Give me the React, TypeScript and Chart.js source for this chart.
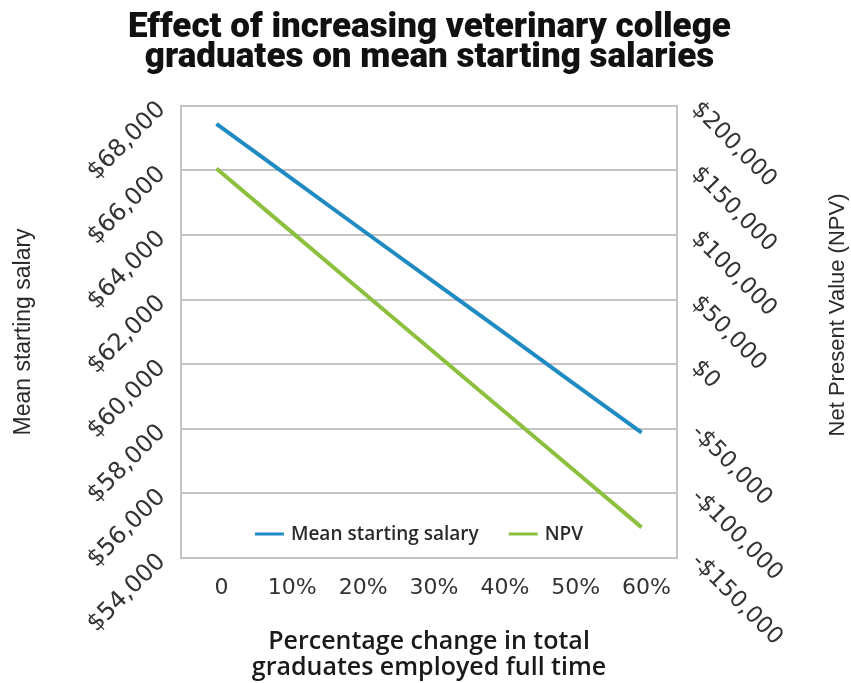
import React, { useEffect, useRef } from "react";
import { Chart, registerables } from "chart.js";

Chart.register(...registerables);

const titleLines = ["Effect of increasing veterinary college", "graduates on mean starting salaries"];
const categories = ["0", "10%", "20%", "30%", "40%", "50%", "60%"];
const salaryValues = [67440, 65850, 64250, 62660, 61070, 59470, 57880];
const npvValues = [151500, 105200, 58900, 12600, -33700, -80000, -126300];
const salaryTicks = [54000, 56000, 58000, 60000, 62000, 64000, 66000, 68000];
const npvTicks = [-150000, -100000, -50000, 0, 50000, 100000, 150000, 200000];
const xTitleLines = ["Percentage change in total", "graduates employed full time"];
const leftTitle = "Mean starting salary";
const rightTitle = "Net Present Value (NPV)";

const BLUE = "#1f8bc2";
const GREEN = "#8dc03f";
const GRID = "#c4c4c4";
const TEXT = "#2a2a2a";
const TICK_FONT = "'DejaVu Sans', sans-serif";
const AXIS_TITLE_FONT = "'Liberation Sans', Arial, sans-serif";

const fmt = (v: number) => (v < 0 ? "-$" : "$") + Math.abs(v).toLocaleString("en-US");

const insideLegend = {
  id: "insideLegend",
  afterDraw(chart: any) {
    const { ctx, chartArea } = chart;
    const y = chartArea.bottom - 24;
    const sample = 29;
    const gapText = 7;
    const gapItems = 30;
    ctx.save();
    ctx.font = "600 19px 'Open Sans', sans-serif";
    const items = chart.data.datasets.map((d: any) => ({
      label: d.label,
      color: d.borderColor,
      w: ctx.measureText(d.label).width,
    }));
    const total = items.reduce((s: number, it: any) => s + sample + gapText + it.w, 0) + gapItems * (items.length - 1);
    let x = (chartArea.left + chartArea.right) / 2 - 10 - total / 2;
    ctx.textBaseline = "middle";
    ctx.textAlign = "left";
    items.forEach((it: any) => {
      ctx.strokeStyle = it.color;
      ctx.lineWidth = 3;
      ctx.beginPath();
      ctx.moveTo(x, y);
      ctx.lineTo(x + sample, y);
      ctx.stroke();
      ctx.fillStyle = TEXT;
      ctx.fillText(it.label, x + sample + gapText, y + 1);
      x += sample + gapText + it.w + gapItems;
    });
    ctx.restore();
  },
};

const rightTitlePlugin = {
  id: "rightTitle",
  afterDraw(chart: any) {
    const { ctx, chartArea } = chart;
    ctx.save();
    ctx.font = "22px " + AXIS_TITLE_FONT;
    ctx.fillStyle = TEXT;
    ctx.textAlign = "center";
    ctx.textBaseline = "middle";
    ctx.translate(chart.width - 13, (chartArea.top + chartArea.bottom) / 2 - 17);
    ctx.rotate(-Math.PI / 2);
    ctx.fillText(rightTitle, 0, 0);
    ctx.restore();
  },
};

export default function App() {
  const ref = useRef<HTMLCanvasElement | null>(null);
  useEffect(() => {
    if (!ref.current) return;
    const chart = new Chart(ref.current, {
      type: "line",
      data: {
        labels: categories,
        datasets: [
          {
            label: "Mean starting salary",
            data: salaryValues,
            borderColor: BLUE,
            backgroundColor: BLUE,
            borderWidth: 4,
            pointRadius: 0,
            yAxisID: "y",
          },
          {
            label: "NPV",
            data: npvValues,
            borderColor: GREEN,
            backgroundColor: GREEN,
            borderWidth: 4,
            pointRadius: 0,
            yAxisID: "y1",
          },
        ],
      },
      options: {
        responsive: false,
        animation: false,
        layout: { padding: { left: 8, right: 0, top: 0, bottom: 0 } },
        plugins: {
          legend: { display: false },
          tooltip: { enabled: false },
          title: {
            display: true,
            text: titleLines,
            color: "#111",
            font: { family: "Roboto, sans-serif", size: 35, weight: "900", lineHeight: 0.87 },
            padding: { top: 13, bottom: 32 },
          },
        },
        scales: {
          x: {
            offset: true,
            grid: { display: false },
            border: { display: false },
            ticks: {
              color: "#333",
              font: { family: TICK_FONT, size: 22 },
              padding: 9,
              labelOffset: 5,
              maxRotation: 0,
              autoSkip: false,
            },
            title: {
              display: true,
              text: xTitleLines,
              color: "#1a1a1a",
              font: { family: "'Open Sans', sans-serif", size: 25, weight: "600", lineHeight: 1.04 },
              padding: { top: 10, bottom: 2 },
            },
            afterFit: (s: any) => {
              s.height = 125;
            },
          },
          y: {
            position: "left",
            min: 54000,
            max: 68000,
            afterBuildTicks: (s: any) => {
              s.ticks = salaryTicks.map((v) => ({ value: v }));
            },
            grid: { color: GRID, lineWidth: 2, drawTicks: false },
            border: { display: true, color: GRID, width: 2 },
            ticks: {
              color: "#333",
              font: { family: TICK_FONT, size: 24 },
              padding: 19,
              minRotation: 45,
              maxRotation: 45,
              callback: (v: any) => fmt(Number(v)),
            },
            title: {
              display: true,
              text: leftTitle,
              color: TEXT,
              font: { family: AXIS_TITLE_FONT, size: 23 },
              padding: { top: 2, bottom: 0 },
            },
            afterFit: (s: any) => {
              s.width = 173;
            },
          },
          y1: {
            position: "right",
            min: -150000,
            max: 200000,
            afterBuildTicks: (s: any) => {
              s.ticks = npvTicks.map((v) => ({ value: v }));
            },
            grid: { drawOnChartArea: false, drawTicks: false },
            border: { display: true, color: GRID, width: 2 },
            ticks: {
              color: "#333",
              font: { family: TICK_FONT, size: 23 },
              padding: 18,
              minRotation: -45,
              maxRotation: -45,
              callback: (v: any) => fmt(Number(v)),
            },
            title: { display: false },
            afterFit: (s: any) => {
              s.width = 174;
            },
          },
        },
      },
      plugins: [insideLegend, rightTitlePlugin],
    } as any);
    return () => chart.destroy();
  }, []);
  return (
    <div style={{ position: "absolute", left: 0, top: 0, width: 851, height: 683, background: "#fff" }}>
      <canvas ref={ref} width={851} height={683} />
    </div>
  );
}
